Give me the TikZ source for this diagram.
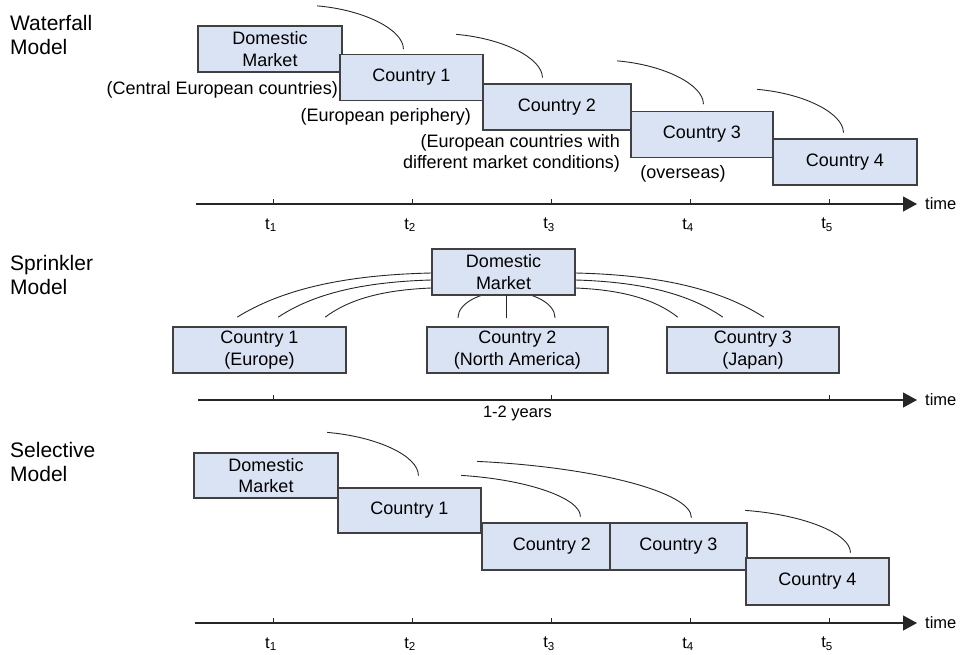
\documentclass[tikz,border=0pt]{standalone}
\usepackage{fontspec}
\setmainfont{Liberation Sans}
\usetikzlibrary{arrows.meta,calc,backgrounds}

\begin{document}
\begin{tikzpicture}[x=1pt, y=-1pt,
    mbox/.style={draw=boxgray, fill=boxblue, line width=1.2pt, inner sep=0pt,
      minimum height=46pt, align=center, font=\fontsize{18}{21.5}\selectfont},
    aside/.style={inner sep=0pt, align=right, font=\fontsize{18}{21}\selectfont},
    model/.style={inner sep=0pt, align=left, anchor=north west, font=\fontsize{21}{24}\selectfont},
    curl/.style={draw=black!85, line width=0.9pt, line cap=round},
    timeline/.style={draw=black!85, line width=1.2pt, -{Triangle[length=14pt,width=15pt]}},
    tick/.style={draw=black!85, line width=1pt},
    tlabel/.style={inner sep=0pt, font=\fontsize{16.5}{20}\selectfont}]
  \definecolor{boxblue}{HTML}{DAE3F3}
  \definecolor{boxgray}{HTML}{404040}
  \useasboundingbox (0,0) rectangle (961,654);

  % ---- waterfall model
  \node[model] (wlabel) at (10,15) {Waterfall\\Model};
  \node[mbox, minimum width=144pt] (wdm) at (270,49) {Domestic\\Market};
  \node[mbox, minimum width=143pt] (wc1) at (411.5,77.5) {Country 1};
  \node[mbox, minimum width=148pt] (wc2) at (557,107) {Country 2};
  \node[mbox, minimum width=142pt] (wc3) at (702,134.5) {Country 3};
  \node[mbox, minimum width=144pt] (wc4) at (845,162) {Country 4};
  \node[aside, anchor=east] (wn1) at (338,90) {(Central European countries)};
  \node[aside, anchor=east] (wn2) at (471,117) {(European periphery)};
  \node[aside, anchor=east] (wn3) at (620,153) {(European countries with\\ different market conditions)};
  \node[aside] (wn4) at (683,174) {(overseas)};
  \foreach \n/\b/\c in {wc1/64/-5, wc2/60/-6, wc3/73/-7, wc4/71/-6}
    \draw[curl] ($(\n.north west)+({\b-86},{\c-43})$) .. controls +(47,4) and +(0,-19) .. ($(\n.north west)+(\b,\c)$);
  % time axis
  \coordinate (wa0) at (196,204);
  \coordinate (wa1) at (917,204);
  \draw[timeline] (wa0) -- (wa1);
  \node[tlabel, anchor=west] (wtime) at ($(wa1)+(8,0)$) {time};
  \foreach \i/\x in {1/273, 2/412, 3/551, 4/690, 5/829} {
    \draw[tick] (\x,204) -- ++(0,-5);
    \node[tlabel] (wt\i) at (\x-2,225) {t\textsubscript{\i}};
  }

  % ---- sprinkler model
  \node[model] (slabel) at (10,255) {Sprinkler\\Model};
  \node[mbox, minimum width=143pt] (sdm) at (503.5,272) {Domestic\\Market};
  \node[mbox, minimum width=173pt] (sc1) at (259.5,350) {Country 1\\(Europe)};
  \node[mbox, minimum width=181pt] (sc2) at (517.5,350) {Country 2\\(North America)};
  \node[mbox, minimum width=172pt] (sc3) at (753,350) {Country 3\\(Japan)};
  \begin{scope}[on background layer]
    \foreach \dy/\dx in {1/194, 8/153, 16/106}
      \draw[curl] ($(sdm.west)+(0,\dy)$) .. controls +({-0.47*\dx},2) and +({0.22*\dx},{-0.6*(45-\dy)}) .. ($(sdm.west)+(-\dx,45)$);
    \foreach \dy/\dx in {1/188, 8/147, 16/102}
      \draw[curl] ($(sdm.east)+(0,\dy)$) .. controls +({0.47*\dx},2) and +({-0.22*\dx},{-0.6*(45-\dy)}) .. ($(sdm.east)+(\dx,45)$);
    \draw[curl] ($(sdm.south)+(-45.5,22)$) .. controls +(0,-14) and +(-27,0) .. ($(sdm.south)+(3,-4)$)
      .. controls +(27,0) and +(0,-14) .. ($(sdm.south)+(51.5,22)$);
  \end{scope}
  \draw[curl] ($(sdm.south)+(3,0)$) -- ++(0,22);
  % time axis
  \coordinate (sa0) at (198,400);
  \coordinate (sa1) at (917,400);
  \draw[timeline] (sa0) -- (sa1);
  \node[tlabel, anchor=west] (stime) at ($(sa1)+(8,0)$) {time};
  \foreach \x in {273, 551, 829}
    \draw[tick] (\x,400) -- ++(0,-5);
  \node[tlabel, anchor=east] (syears) at (552,413) {1-2 years};

  % ---- selective model
  \node[model] (elabel) at (10,442) {Selective\\Model};
  \node[mbox, minimum width=144pt, minimum height=45pt] (edm) at (266,475.5) {Domestic\\Market};
  \node[mbox, minimum width=143pt, minimum height=45pt] (ec1) at (409.5,510.5) {Country 1};
  \node[mbox, minimum width=140pt, minimum height=47pt] (ec2) at (552,546.5) {Country 2};
  \node[mbox, minimum width=137pt, minimum height=47pt] (ec3) at (678.5,546.5) {Country 3};
  \node[mbox, minimum width=143pt, minimum height=47pt] (ec4) at (817.5,581.5) {Country 4};
  \foreach \n/\b/\c/\w/\h in {ec1/81/-12/91/43, ec2/99/-6/119/41, ec3/82/-5/214/56, ec4/105/-5/105/42}
    \draw[curl] ($(\n.north west)+({\b-\w},{\c-\h})$) .. controls +({0.55*\w},{0.1*\h}) and +(0,{-0.45*\h}) .. ($(\n.north west)+(\b,\c)$);
  % time axis
  \coordinate (ea0) at (195,623);
  \coordinate (ea1) at (917,623);
  \draw[timeline] (ea0) -- (ea1);
  \node[tlabel, anchor=west] (etime) at ($(ea1)+(8,0)$) {time};
  \foreach \i/\x in {1/273, 2/412, 3/551, 4/690, 5/829} {
    \draw[tick] (\x,623) -- ++(0,-5);
    \node[tlabel] (et\i) at (\x-2,644) {t\textsubscript{\i}};
  }
\end{tikzpicture}
\end{document}
